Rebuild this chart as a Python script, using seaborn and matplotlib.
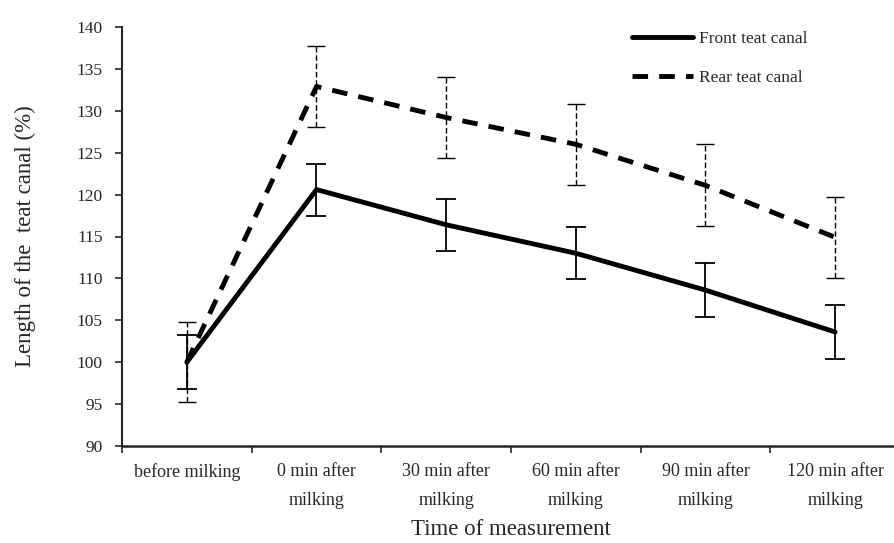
import numpy as np
import pandas as pd
import seaborn as sns
from matplotlib import pyplot as plt
from matplotlib.ticker import FixedLocator

times = ['before milking', '0 min after\nmilking', '30 min after\nmilking',
         '60 min after\nmilking', '90 min after\nmilking', '120 min after\nmilking']
front = [100.0, 120.6, 116.4, 113.0, 108.6, 103.6]
front_err = [3.2, 3.1, 3.1, 3.1, 3.2, 3.2]
rear = [100.0, 132.9, 129.2, 126.0, 121.1, 114.9]
rear_err = [4.8, 4.8, 4.8, 4.85, 4.9, 4.85]

sns.set_style("ticks")
plt.rcParams['font.family'] = ['Liberation Serif', 'DejaVu Serif']

df = pd.DataFrame({
    'time': times * 2,
    'value': front + rear,
    'canal': ['Front teat canal'] * 6 + ['Rear teat canal'] * 6,
})

fig = plt.figure(figsize=(8.95, 5.43), dpi=100)
ax = fig.add_axes([122 / 895, 1 - 446 / 543, 778 / 895, 419 / 543])

sns.lineplot(data=df, x='time', y='value', style='canal', sort=False,
             color='black', linewidth=3.5,
             dashes={'Front teat canal': '', 'Rear teat canal': (3.2, 2.3)},
             ax=ax, legend=True)

x = np.arange(len(times))
eb = ax.errorbar(x, rear, yerr=rear_err, fmt='none', ecolor='black',
                 elinewidth=1.0, capsize=6.5, capthick=1.0)
eb[2][0].set_linestyle((0, (4, 2)))
ax.errorbar(x, front, yerr=front_err, fmt='none', ecolor='black',
            elinewidth=1.3, capsize=7, capthick=1.3)

ax.set_xlim(-0.5, 5.5)
ax.set_ylim(90, 140)
ax.set_yticks(np.arange(90, 141, 5))
ax.xaxis.set_major_locator(FixedLocator(np.arange(-0.5, 6, 1)))
ax.set_xticklabels([''] * 7)
ax.xaxis.set_minor_locator(FixedLocator(x))
ax.set_xticklabels(times, minor=True, fontsize=13, linespacing=1.95)
ax.tick_params(axis='x', which='minor', length=0, pad=12)
ax.tick_params(axis='x', which='major', length=5, width=1.2, direction='out')
ax.tick_params(axis='y', length=5, width=1.2, labelsize=12.5, pad=9)

sns.despine(ax=ax)
ax.spines['left'].set_linewidth(1.5)
ax.spines['bottom'].set_linewidth(1.8)

ax.set_xlabel('Time of measurement', fontsize=16.5, labelpad=7)
ax.set_ylabel('Length of the  teat canal (%)', fontsize=16.5, labelpad=29)

leg = ax.legend(loc='upper left', bbox_to_anchor=(0.636, 1.028), frameon=False,
                fontsize=12.5, handlelength=3.5, handletextpad=0.35,
                labelspacing=1.3)

plt.savefig('out.png', dpi=100)
